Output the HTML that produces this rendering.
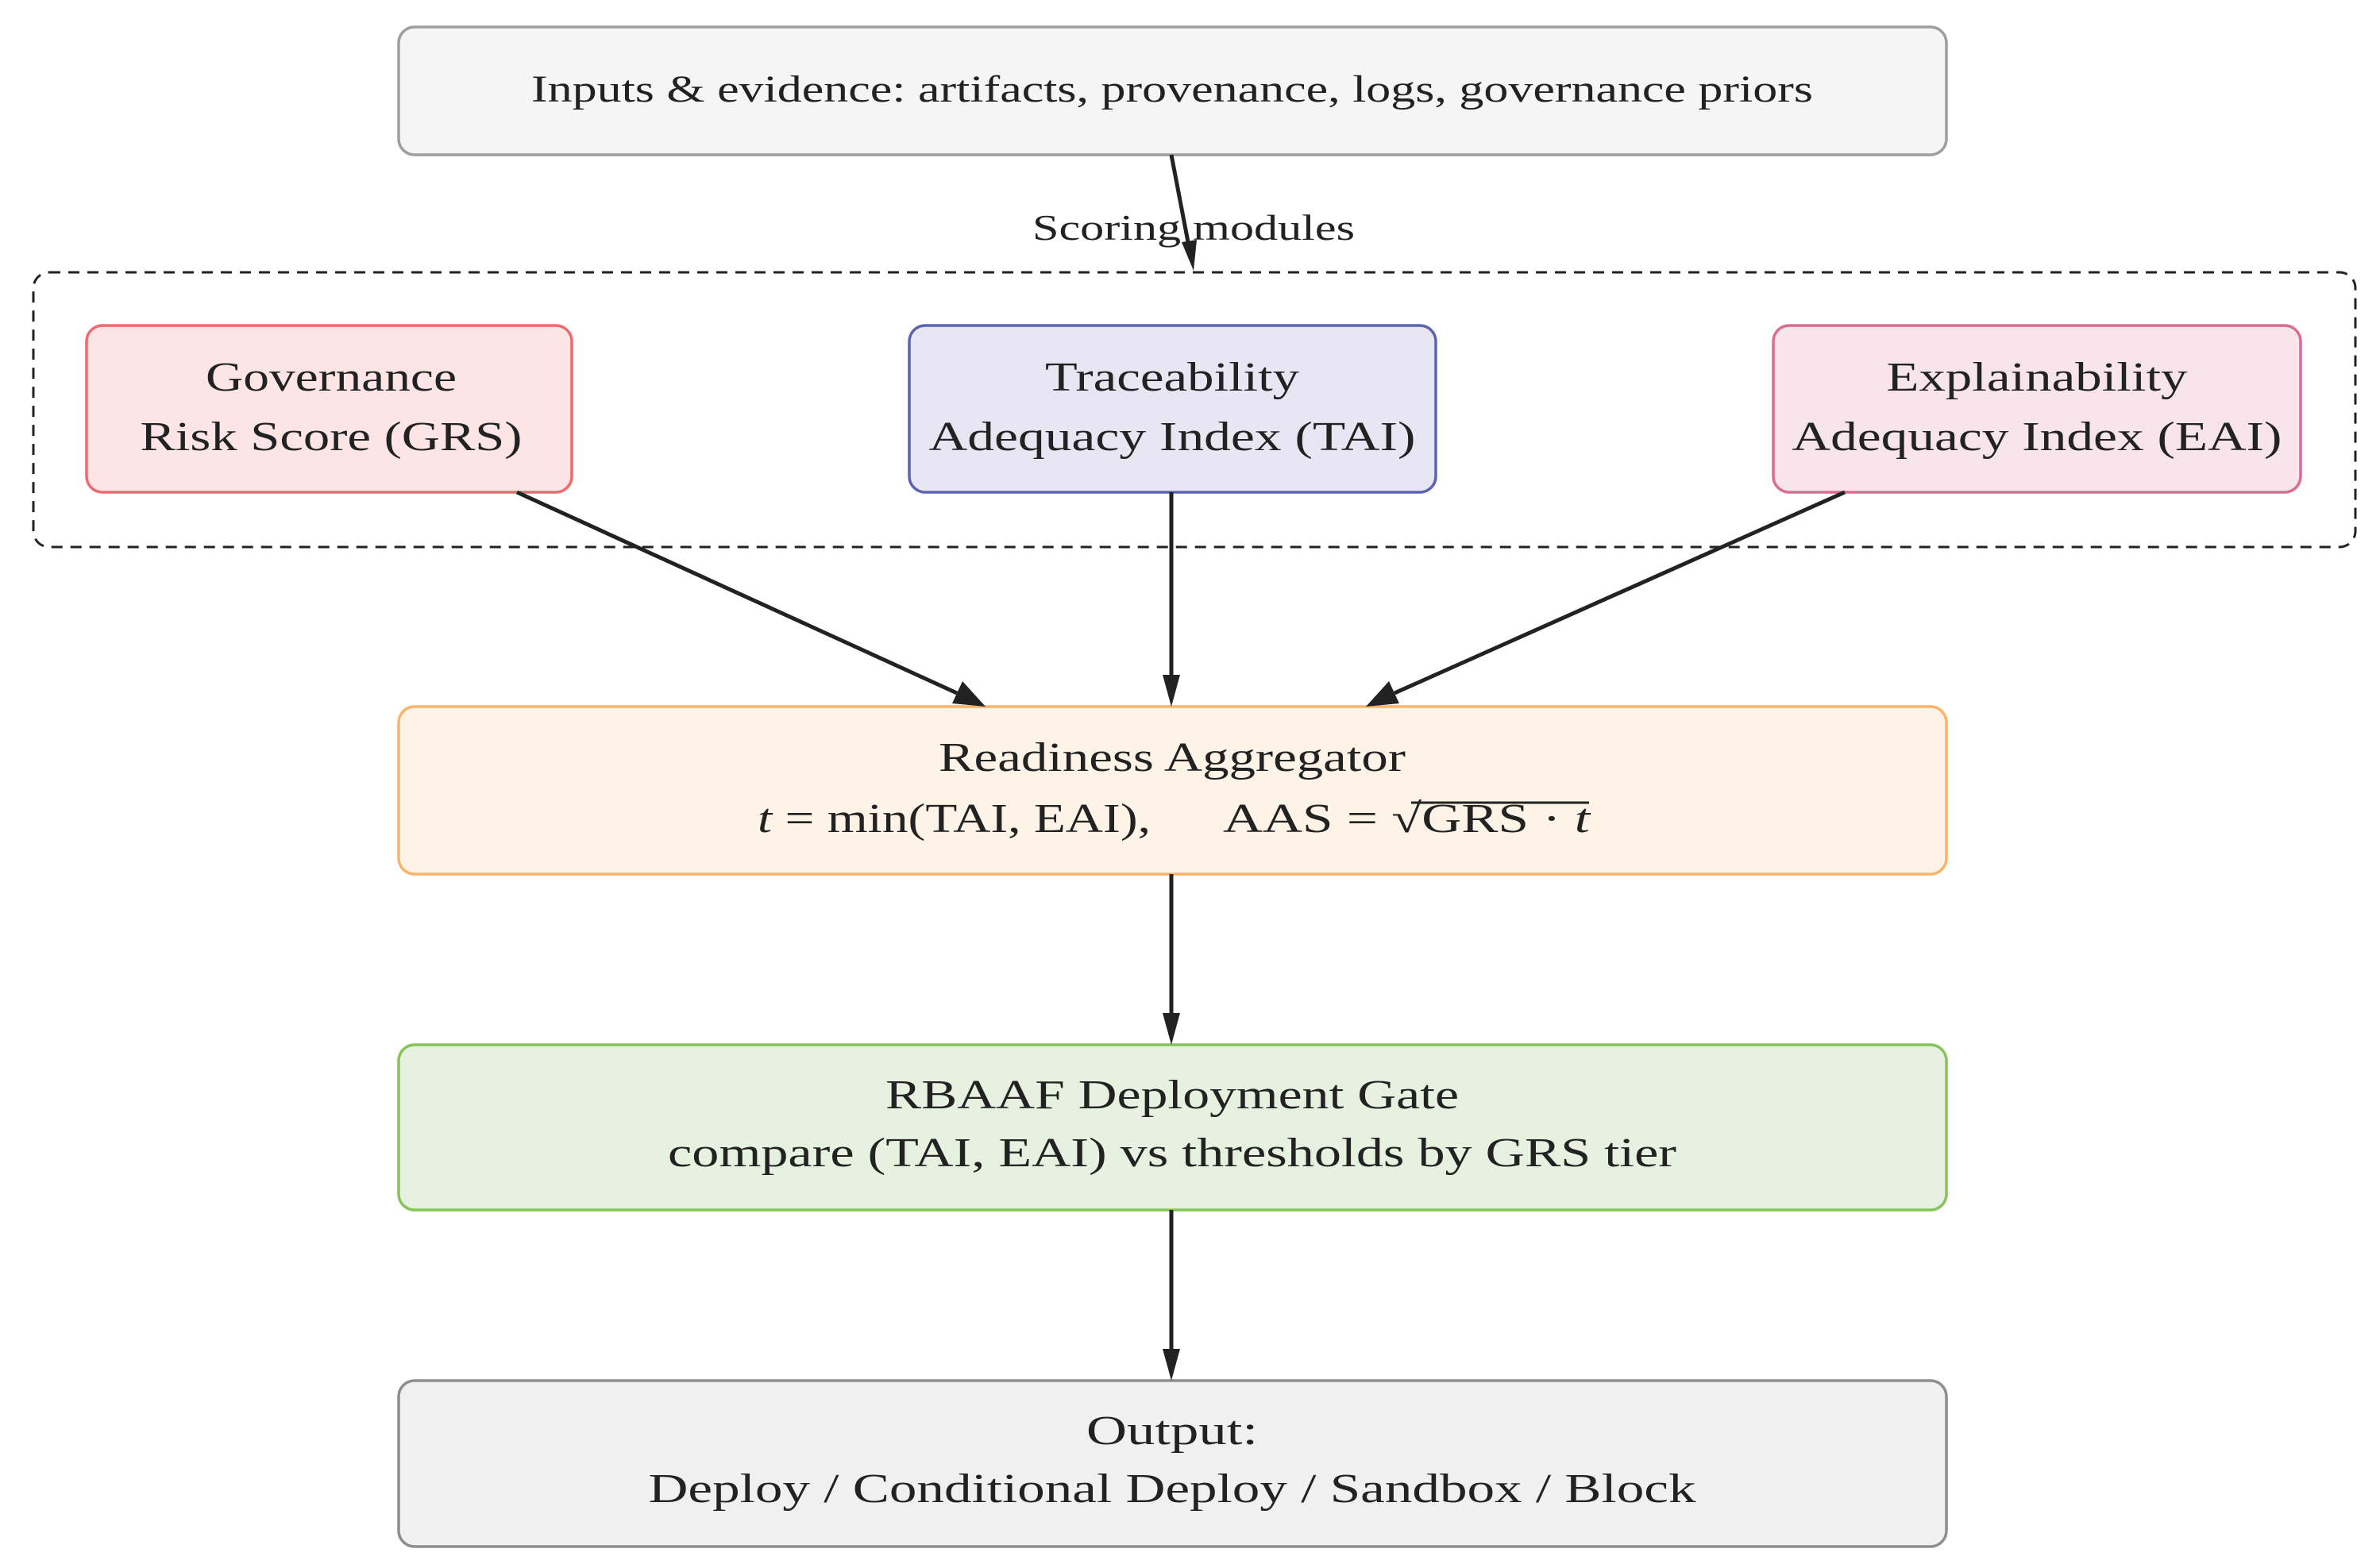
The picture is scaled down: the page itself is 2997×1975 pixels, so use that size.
<!DOCTYPE html>
<html><head><meta charset="utf-8"><style>html,body{margin:0;padding:0;background:#fff}svg{display:block}</style></head>
<body>
<svg width="2997" height="1975" viewBox="0 0 2997 1975" xmlns="http://www.w3.org/2000/svg" font-family="'Liberation Serif', serif" fill="#222">
<!-- boxes -->
<rect x="502" y="34" width="1949" height="161" rx="20" fill="#f5f5f5" stroke="#9e9e9e" stroke-width="3.5"/>
<rect x="42" y="343" width="2924" height="346" rx="20" fill="none" stroke="#222" stroke-width="3" stroke-dasharray="14,10"/>
<rect x="109" y="410" width="611" height="210" rx="20" fill="#fde5e6" stroke="#ef6a6e" stroke-width="3.5"/>
<rect x="1145" y="410" width="663" height="210" rx="20" fill="#e8e6f3" stroke="#5c64b0" stroke-width="3.5"/>
<rect x="2233" y="410" width="664" height="210" rx="20" fill="#f8e5ec" stroke="#dc6a93" stroke-width="3.5"/>
<rect x="502" y="890" width="1949" height="211" rx="20" fill="#fdf3e6" stroke="#f9b46a" stroke-width="3.5"/>
<rect x="502" y="1316" width="1949" height="208" rx="20" fill="#e6f1df" stroke="#86c45a" stroke-width="3.5"/>
<rect x="502" y="1739" width="1949" height="209" rx="20" fill="#f0f0f0" stroke="#8e8e8e" stroke-width="3.5"/>

<!-- arrows -->
<g stroke="#222" stroke-width="5" fill="none">
<line x1="1475" y1="195" x2="1497" y2="310"/>
<line x1="651" y1="620" x2="1205" y2="873"/>
<line x1="1475" y1="620" x2="1475" y2="855"/>
<line x1="2323" y1="620" x2="1756" y2="873"/>
<line x1="1475" y1="1101" x2="1475" y2="1282"/>
<line x1="1475" y1="1524" x2="1475" y2="1705"/>
</g>
<g fill="#222">
<polygon points="1503,341 1488,305 1507,302"/>
<polygon points="1241,890 1199,886 1212,858"/>
<polygon points="1475,890 1464,850 1486,850"/>
<polygon points="1720,890 1749,858 1762,886"/>
<polygon points="1475,1316 1464,1276 1486,1276"/>
<polygon points="1475,1739 1464,1699 1486,1699"/>
</g>

<g font-size="52" text-anchor="middle">
<text x="1476" y="128" font-size="48" textLength="1614" lengthAdjust="spacingAndGlyphs">Inputs &amp; evidence: artifacts, provenance, logs, governance priors</text>
<text x="1503" y="302" font-size="46" textLength="406" lengthAdjust="spacingAndGlyphs">Scoring modules</text>
<text x="417" y="492" textLength="316" lengthAdjust="spacingAndGlyphs">Governance</text>
<text x="417" y="567" textLength="481" lengthAdjust="spacingAndGlyphs">Risk Score (GRS)</text>
<text x="1476" y="492" textLength="320" lengthAdjust="spacingAndGlyphs">Traceability</text>
<text x="1476" y="567" textLength="613" lengthAdjust="spacingAndGlyphs">Adequacy Index (TAI)</text>
<text x="2565" y="492" textLength="379" lengthAdjust="spacingAndGlyphs">Explainability</text>
<text x="2565" y="567" textLength="617" lengthAdjust="spacingAndGlyphs">Adequacy Index (EAI)</text>
<text x="1476" y="971" textLength="588" lengthAdjust="spacingAndGlyphs">Readiness Aggregator</text>
<text x="1476" y="1396" textLength="722" lengthAdjust="spacingAndGlyphs">RBAAF Deployment Gate</text>
<text x="1476" y="1469" textLength="1270" lengthAdjust="spacingAndGlyphs">compare (TAI, EAI) vs thresholds by GRS tier</text>
<text x="1476" y="1819" textLength="216" lengthAdjust="spacingAndGlyphs">Output:</text>
<text x="1476" y="1892" textLength="1319" lengthAdjust="spacingAndGlyphs">Deploy / Conditional Deploy / Sandbox / Block</text>
</g>
<g font-size="52">
<text x="954" y="1048" textLength="495" lengthAdjust="spacingAndGlyphs"><tspan font-style="italic">t</tspan> = min(TAI, EAI),</text>
<text x="1540" y="1048" textLength="462" lengthAdjust="spacingAndGlyphs">AAS = √GRS · <tspan font-style="italic">t</tspan></text>
</g>
<line x1="1777" y1="1011" x2="2001" y2="1011" stroke="#222" stroke-width="3"/>
</svg>
</body></html>
